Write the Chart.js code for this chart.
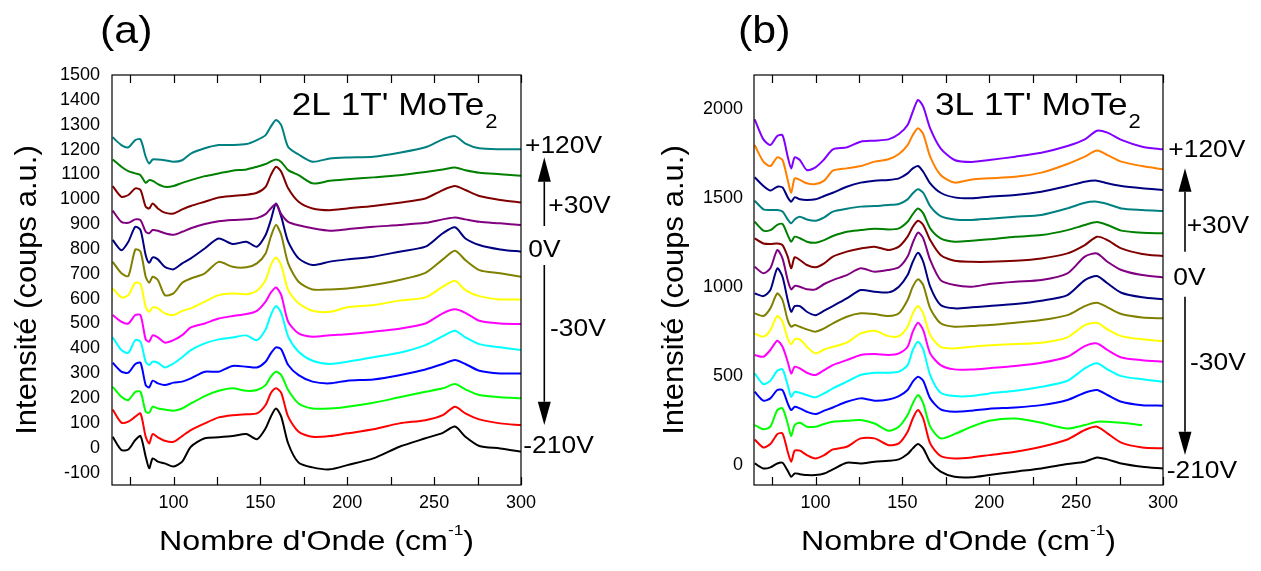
<!DOCTYPE html>
<html><head><meta charset="utf-8">
<script src="https://cdn.jsdelivr.net/npm/chart.js@4.4.1/dist/chart.umd.min.js"></script>
<style>
html,body{margin:0;padding:0;background:#fff;width:1261px;height:571px;overflow:hidden}
canvas{position:absolute;top:0}
#ca{left:0}
#cb{left:640px}
</style></head><body>
<canvas id="ca" width="640" height="571"></canvas>
<canvas id="cb" width="621" height="571"></canvas>
<script>
// ---------- DATA ----------
const wavenumbers = [65,70,74,78,81,84,86,88,91,95,100,105,110,118,126,134,142,148,153,156,159,162,166,172,180,190,200,215,230,245,255,262,268,276,288,300];
const xTicks = [100,150,200,250,300];
const xMinorTicks = [75,100,125,150,175,200,225,250,275,300];
const yTicksA = [-100,0,100,200,300,400,500,600,700,800,900,1000,1100,1200,1300,1400,1500];
const yTicksB = [0,500,1000,1500,2000];
const voltLabels = ['+120V','+30V','0V','-30V','-210V'];
const titleA = "2L 1T' MoTe";
const titleB = "3L 1T' MoTe";

// Panel (a): 2L, top to bottom
const a01 = [1249,1218,1209,1238,1241,1171,1144,1160,1160,1157,1151,1157,1184,1205,1218,1218,1222,1238,1258,1292,1319,1298,1210,1180,1151,1164,1168,1171,1187,1209,1241,1254,1224,1205,1201,1201];
const a02 = [1160,1131,1113,1104,1097,1066,1077,1074,1061,1050,1053,1066,1077,1093,1104,1115,1120,1131,1142,1152,1160,1150,1117,1097,1064,1074,1080,1088,1097,1110,1120,1128,1117,1107,1101,1095];
const a03 = [1053,1010,1017,1044,1037,970,963,983,963,946,943,959,973,990,1007,1013,1018,1026,1050,1097,1131,1111,1044,990,963,956,963,973,986,1003,1037,1053,1037,1013,997,987];
const a04 = [954,909,905,919,916,869,863,876,873,863,857,869,883,900,911,916,919,924,940,963,981,940,909,895,883,873,879,889,896,905,919,927,919,909,903,896];
const a05 = [836,795,829,889,876,775,744,766,758,728,718,742,762,802,842,820,829,809,856,916,983,930,829,762,735,749,758,769,789,809,863,887,842,816,798,789];
const a06 = [748,702,691,798,789,688,664,688,675,614,621,664,681,702,748,728,726,742,782,849,896,856,742,668,637,637,641,655,675,704,758,793,755,715,702,688];
const a07 = [641,605,614,664,659,567,547,565,561,541,534,551,561,588,614,621,618,632,675,735,766,735,634,581,551,547,565,574,592,605,648,672,634,610,597,597];
const a08 = [534,507,500,534,534,436,427,452,444,423,433,453,484,500,520,530,538,551,588,624,645,614,507,460,447,453,457,467,479,500,541,557,543,511,500,498];
const a09 = [444,393,382,433,427,346,333,346,342,323,339,364,393,420,436,444,452,433,476,534,570,543,447,386,350,337,346,364,382,413,449,471,444,417,404,393];
const a10 = [342,306,302,337,342,252,243,270,259,252,262,266,279,306,306,329,326,323,346,380,404,396,333,292,266,259,270,275,292,315,337,353,337,310,299,299];
const a11 = [245,205,192,225,225,145,141,165,158,154,149,158,178,208,229,239,229,232,252,286,306,292,232,178,158,158,165,181,203,225,239,256,235,212,203,199];
const a12 = [154,101,105,125,138,44,17,55,42,28,24,47,71,98,122,131,135,138,172,219,239,221,125,64,44,47,58,74,98,111,131,165,138,114,98,91];
const a13 = [44,-9,-7,31,47,-36,-83,-43,-56,-63,-76,-56,4,38,42,47,55,34,78,125,158,125,17,-60,-79,-87,-70,-43,4,38,60,85,44,7,-3,-16];

// Panel (b): 3L, top to bottom
const b01 = [1944,1831,1799,1850,1854,1734,1668,1730,1715,1659,1674,1719,1775,1786,1818,1824,1831,1861,1912,1987,2053,2015,1893,1781,1715,1704,1715,1734,1756,1794,1831,1880,1869,1828,1790,1775];
const b02 = [1799,1706,1681,1730,1715,1603,1531,1612,1603,1584,1580,1599,1655,1668,1681,1706,1719,1749,1799,1856,1893,1861,1734,1631,1588,1606,1612,1621,1644,1693,1734,1768,1743,1706,1681,1663];
const b03 = [1618,1569,1543,1565,1561,1505,1481,1505,1494,1490,1494,1513,1531,1565,1588,1599,1603,1612,1640,1668,1681,1649,1584,1531,1505,1500,1509,1518,1537,1569,1593,1599,1584,1569,1556,1546];
const b04 = [1486,1438,1434,1434,1425,1381,1359,1381,1396,1381,1374,1393,1425,1441,1453,1456,1462,1468,1494,1528,1550,1531,1456,1400,1381,1378,1385,1396,1406,1443,1475,1481,1468,1443,1434,1428];
const b05 = [1368,1318,1321,1350,1355,1293,1256,1284,1275,1256,1250,1265,1288,1312,1321,1329,1325,1331,1368,1411,1443,1415,1331,1275,1256,1261,1269,1284,1293,1321,1350,1366,1350,1318,1306,1303];
const b06 = [1275,1246,1243,1246,1237,1172,1106,1168,1153,1125,1112,1134,1172,1200,1218,1228,1209,1228,1284,1340,1374,1350,1265,1181,1149,1143,1143,1149,1162,1190,1237,1284,1265,1218,1187,1175];
const b07 = [1115,1078,1106,1209,1162,1040,988,1007,1003,988,988,1018,1040,1068,1106,1087,1097,1112,1172,1250,1307,1275,1153,1040,1012,1003,1018,1031,1040,1078,1172,1190,1143,1097,1068,1055];
const b08 = [965,950,984,1106,1059,928,862,894,894,862,843,868,894,937,984,975,971,1003,1068,1143,1194,1143,1003,900,881,887,894,905,924,956,1040,1063,1022,969,943,932];
const b09 = [853,838,881,965,928,815,778,787,778,763,750,768,797,834,853,849,838,853,928,1003,1044,1012,881,797,778,782,787,800,815,843,894,913,887,849,830,825];
const b10 = [740,722,759,838,806,712,680,707,707,665,628,650,665,688,740,755,725,725,778,853,894,853,731,665,656,665,673,680,688,718,787,800,763,725,707,697];
const b11 = [619,609,647,699,665,581,515,553,544,519,506,534,562,590,619,624,619,628,665,750,800,759,628,562,538,538,545,557,575,609,669,684,647,605,590,581];
const b12 = [515,455,474,530,538,450,384,412,407,394,381,403,431,469,506,519,519,525,562,647,694,650,506,407,388,388,403,418,440,474,544,572,538,500,482,469];
const b13 = [412,362,375,422,422,347,309,328,319,300,287,306,324,356,375,362,369,388,422,469,497,474,375,313,300,306,317,324,337,366,407,422,394,356,337,334];
const b14 = [225,201,216,309,319,234,163,225,238,216,216,231,244,249,253,234,193,216,281,347,394,347,216,150,174,216,249,262,238,206,225,244,244,238,225,null];
const b15 = [144,99,118,174,178,75,19,81,81,56,37,56,88,103,150,150,112,122,187,262,309,262,122,51,37,43,56,75,103,144,197,216,178,126,99,94];
const b16 = [9,-19,-13,9,13,-32,-66,-47,-51,-56,-56,-47,-24,13,9,19,24,32,62,94,118,94,19,-37,-66,-69,-56,-37,-19,6,19,43,32,9,-9,-19];

const seriesA = [a01,a02,a03,a04,a05,a06,a07,a08,a09,a10,a11,a12,a13];
const seriesB = [b01,b02,b03,b04,b05,b06,b07,b08,b09,b10,b11,b12,b13,b14,b15,b16];
const colorsA = ['#008080','#008000','#800000','#800080','#000080','#808000','#FFFF00','#FF00FF','#00FFFF','#0000FF','#00FF00','#FF0000','#000000'];
const colorsB = ['#8000FF','#FF8000','#000080','#008080','#008000','#800000','#800080','#000080','#808000','#FFFF00','#FF00FF','#00FFFF','#0000FF','#00FF00','#FF0000','#000000'];

// ---------- DRAWING ----------
const FONT = '"Liberation Sans", Arial, Helvetica, sans-serif';
const SX = 1.1;
function sText(ctx, txt, x, y, size, align, sx){
  ctx.save();
  ctx.font = size + 'px ' + FONT;
  ctx.fillStyle = '#000';
  ctx.textBaseline = 'alphabetic';
  ctx.translate(x, y);
  ctx.scale(sx || SX, 1);
  ctx.textAlign = align || 'left';
  ctx.fillText(txt, 0, 0);
  ctx.restore();
}
function measure(ctx, txt, size, sx){
  ctx.save(); ctx.font = size + 'px ' + FONT;
  const w = ctx.measureText(txt).width * (sx || SX); ctx.restore(); return w;
}
function arrow(ctx, x, lineTop, lineBot, tip, base){
  ctx.save();
  ctx.strokeStyle = '#000'; ctx.fillStyle = '#000'; ctx.lineWidth = 1.6;
  ctx.beginPath(); ctx.moveTo(x, lineTop); ctx.lineTo(x, lineBot); ctx.stroke();
  ctx.beginPath(); ctx.moveTo(x, tip); ctx.lineTo(x - 6.5, base); ctx.lineTo(x + 6.5, base); ctx.closePath(); ctx.fill();
  ctx.restore();
}

function decorPlugin(cfg){
  return {
    id: 'decor',
    afterDraw(chart){
      const ctx = chart.ctx, ca = chart.chartArea, xs = chart.scales.x;
      ctx.save();
      ctx.strokeStyle = '#000'; ctx.lineWidth = 1.2;
      ctx.strokeRect(ca.left, ca.top, ca.right - ca.left, ca.bottom - ca.top);
      ctx.beginPath();
      xMinorTicks.forEach(v => {
        const px = Math.round(xs.getPixelForValue(v)) + 0.5;
        ctx.moveTo(px, ca.bottom); ctx.lineTo(px, ca.bottom - 8);
        ctx.moveTo(px, ca.top); ctx.lineTo(px, ca.top + 8);
      });
      ctx.stroke();
      ctx.restore();

      sText(ctx, cfg.letter, cfg.letterX, 42.5, 39, 'left');
      sText(ctx, cfg.title, cfg.titleX, 115, 32, 'left');
      const tw = measure(ctx, cfg.title, 32);
      sText(ctx, '2', cfg.titleX + tw + 1, 128, 20, 'left');

      // x-axis title with superscript
      const XS = 1.15;
      const cx = (ca.left + ca.right) / 2;
      const p1 = "Nombre d'Onde (cm", p2 = '-1', p3 = ')';
      const w1 = measure(ctx, p1, 28, XS), w2 = measure(ctx, p2, 15, XS), w3 = measure(ctx, p3, 28, XS);
      let sx0 = cx - (w1 + w2 + w3) / 2;
      sText(ctx, p1, sx0, 550, 28, 'left', XS);
      sText(ctx, p2, sx0 + w1, 535, 15, 'left', XS);
      sText(ctx, p3, sx0 + w1 + w2, 550, 28, 'left', XS);

      // y-axis title rotated
      ctx.save();
      ctx.font = '31px ' + FONT; ctx.fillStyle = '#000';
      ctx.translate(cfg.yTitleX, 290);
      ctx.scale(0.96, 1);
      ctx.rotate(-Math.PI / 2);
      ctx.textAlign = 'center'; ctx.textBaseline = 'alphabetic';
      ctx.fillText('Intensité (coups a.u.)', 0, 0);
      ctx.restore();

      cfg.volts.forEach((p, i) => sText(ctx, voltLabels[i], p[0], p[1], 24, 'left'));
      const ar = cfg.arrows;
      arrow(ctx, ar.x, ar.upBase, ar.upEnd, ar.upTip, ar.upBase);
      arrow(ctx, ar.x, ar.downStart, ar.downBase, ar.downTip, ar.downBase);
    }
  };
}

function makeChart(id, series, colors, yMin, yMax, yTicks, geo, cfg){
  const datasets = series.map((arr, i) => ({
    data: wavenumbers.map((w, j) => ({x: w, y: arr[j]})),
    borderColor: colors[i], borderWidth: 2, pointRadius: 0, tension: 0.25,
    fill: false, spanGaps: false
  }));
  return new Chart(document.getElementById(id), {
    type: 'line',
    data: { datasets },
    options: {
      responsive: false, animation: false, devicePixelRatio: 1, events: [],
      layout: { padding: { left: 0, right: geo.padRight, top: 75, bottom: 56 } },
      plugins: { legend: { display: false }, tooltip: { enabled: false } },
      scales: {
        x: {
          type: 'linear', min: 64.6, max: 300,
          grid: { display: false, drawTicks: false }, border: { display: false },
          ticks: { font: { family: FONT, size: 18 }, color: '#000', padding: 7, maxRotation: 0, callback: v => String(v) },
          afterBuildTicks: s => { s.ticks = xTicks.map(v => ({ value: v })); },
          afterFit: s => { s.height = 30; }
        },
        y: {
          type: 'linear', min: yMin, max: yMax,
          grid: { display: false, drawTicks: false }, border: { display: false },
          ticks: { font: { family: FONT, size: 18 }, color: '#000', padding: geo.yPad, callback: v => String(v) },
          afterBuildTicks: s => { s.ticks = yTicks.map(v => ({ value: v })); },
          afterFit: s => { s.width = geo.left; }
        }
      }
    },
    plugins: [decorPlugin(cfg)]
  });
}

makeChart('ca', seriesA, colorsA, -150, 1500, yTicksA, { left: 112, padRight: 119, yPad: 12 }, {
  letter: '(a)', letterX: 100, title: titleA, titleX: 291.7, yTitleX: 36,
  volts: [[525,152.7],[548.3,212.7],[528.3,256.7],[550,336],[523.3,453.3]],
  arrows: { x: 544.3, upTip: 157.3, upBase: 181.7, upEnd: 226, downStart: 265, downBase: 401.7, downTip: 425 }
});
makeChart('cb', seriesB, colorsB, -112, 2193, yTicksB, { left: 114, padRight: 98, yPad: 11 }, {
  letter: '(b)', letterX: 98, title: titleB, titleX: 295, yTitleX: 43,
  volts: [[528.3,156.7],[546.7,233.3],[533.3,285],[550,370],[526.7,478.3]],
  arrows: { x: 545, upTip: 168.3, upBase: 191.7, upEnd: 251.7, downStart: 296.7, downBase: 431.7, downTip: 455 }
});
</script>
</body></html>
